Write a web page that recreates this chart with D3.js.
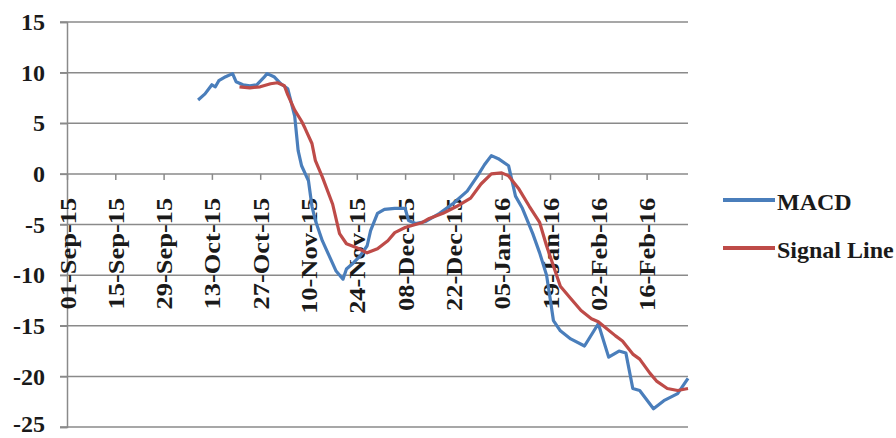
<!DOCTYPE html>
<html>
<head>
<meta charset="utf-8">
<script src="https://cdn.jsdelivr.net/npm/d3@7"></script>
<style>
  body { margin: 0; background: #fff; }
  text { font-family: "Liberation Serif", "Times New Roman", serif; font-weight: bold; }
</style>
</head>
<body>
<div id="plotDiv"></div>
<script>
// --- Data ---
const macdDates = ["2015-10-09","2015-10-11","2015-10-13","2015-10-14","2015-10-15","2015-10-17","2015-10-19","2015-10-20","2015-10-22","2015-10-24","2015-10-26","2015-10-28","2015-10-29","2015-10-31","2015-11-02","2015-11-04","2015-11-06","2015-11-07","2015-11-08","2015-11-10","2015-11-11","2015-11-12","2015-11-14","2015-11-16","2015-11-18","2015-11-20","2015-11-21","2015-11-23","2015-11-25","2015-11-27","2015-11-28","2015-11-30","2015-12-02","2015-12-05","2015-12-08","2015-12-09","2015-12-11","2015-12-14","2015-12-18","2015-12-22","2015-12-26","2015-12-29","2015-12-31","2016-01-02","2016-01-04","2016-01-07","2016-01-08","2016-01-09","2016-01-11","2016-01-14","2016-01-16","2016-01-18","2016-01-19","2016-01-20","2016-01-22","2016-01-25","2016-01-29","2016-02-02","2016-02-05","2016-02-08","2016-02-10","2016-02-12","2016-02-14","2016-02-18","2016-02-21","2016-02-25","2016-02-28"];
const macdValues = [7.3,7.9,8.8,8.6,9.2,9.6,9.9,9.1,8.8,8.7,8.8,9.5,9.9,9.6,8.9,8.4,5.7,2.3,0.8,-0.7,-3.2,-4.6,-6.6,-8.1,-9.6,-10.4,-9.4,-8.8,-8.1,-7.1,-5.6,-3.9,-3.5,-3.4,-3.4,-4.6,-4.9,-4.7,-3.9,-2.9,-1.7,-0.2,0.9,1.8,1.5,0.8,-0.7,-2.2,-3.4,-5.9,-7.8,-10.0,-12.2,-14.5,-15.5,-16.3,-17.0,-14.8,-18.1,-17.5,-17.7,-21.2,-21.4,-23.2,-22.4,-21.7,-20.2];

const signalDates = ["2015-10-21","2015-10-24","2015-10-27","2015-10-30","2015-11-01","2015-11-03","2015-11-04","2015-11-06","2015-11-08","2015-11-09","2015-11-11","2015-11-12","2015-11-14","2015-11-17","2015-11-19","2015-11-21","2015-11-24","2015-11-27","2015-11-30","2015-12-03","2015-12-05","2015-12-08","2015-12-13","2015-12-15","2015-12-19","2015-12-23","2015-12-27","2015-12-30","2016-01-02","2016-01-05","2016-01-07","2016-01-10","2016-01-13","2016-01-16","2016-01-18","2016-01-20","2016-01-22","2016-01-25","2016-01-28","2016-01-31","2016-02-02","2016-02-07","2016-02-09","2016-02-12","2016-02-14","2016-02-17","2016-02-19","2016-02-22","2016-02-25","2016-02-28"];
const signalValues = [8.6,8.5,8.6,8.9,9.0,8.7,7.8,6.3,5.2,4.5,3.0,1.3,-0.3,-3.0,-5.9,-6.9,-7.3,-7.8,-7.4,-6.6,-5.8,-5.3,-4.8,-4.4,-3.9,-3.2,-2.4,-1.0,0.0,0.1,-0.2,-1.5,-3.2,-4.8,-7.1,-9.1,-11.1,-12.3,-13.5,-14.3,-14.6,-16.0,-16.5,-17.8,-18.3,-19.7,-20.5,-21.2,-21.4,-21.2];

const xTickLabels = ["01-Sep-15","15-Sep-15","29-Sep-15","13-Oct-15","27-Oct-15","10-Nov-15","24-Nov-15","08-Dec-15","22-Dec-15","05-Jan-16","19-Jan-16","02-Feb-16","16-Feb-16"];
const yTicks = [-25,-20,-15,-10,-5,0,5,10,15];
const seriesNames = ["MACD","Signal Line"];
const seriesColors = ["#4A7EBB","#BE4B48"];

// --- Definitions ---
const width = 896;
const height = 438;
const parse = d3.timeParse("%Y-%m-%d");
const parseTick = d3.timeParse("%d-%b-%y");
const fmtTick = d3.timeFormat("%d-%b-%y");
const stretch = 1.15; // date labels look drawn taller than wide

const series = [
    macdDates.map((d, i) => ({date: parse(d), value: macdValues[i]})),
    signalDates.map((d, i) => ({date: parse(d), value: signalValues[i]}))
];

const x = d3.scaleTime()
    .domain([parse("2015-09-01"), parse("2016-02-28")])
    .range([67, 688]);
const y = d3.scaleLinear()
    .domain([-25, 15])
    .range([427, 22]);

// --- SVG Setup ---
const svg = d3.select("#plotDiv")
    .append("svg")
    .attr("width", width)
    .attr("height", height);

// --- Gridlines ---
svg.append("g")
    .selectAll("line")
    .data(yTicks)
    .join("line")
    .attr("x1", 60)
    .attr("x2", 688)
    .attr("y1", d => y(d))
    .attr("y2", d => y(d))
    .attr("stroke", "#8a8a8a")
    .attr("stroke-width", 1.5);

// --- Y Axis ---
const yAxis = svg.append("g")
    .attr("transform", `translate(${x.range()[0]},0)`)
    .call(d3.axisLeft(y).tickValues(yTicks).tickSize(7).tickPadding(15).tickFormat(d3.format("d")));
yAxis.select(".domain").attr("stroke", "#8a8a8a").attr("stroke-width", 1.5);
yAxis.selectAll(".tick line").attr("stroke", "#8a8a8a").attr("stroke-width", 1.5);
yAxis.selectAll("text")
    .attr("font-size", "24px")
    .attr("fill", "#1a1a1a")
    .attr("dy", d => d === -25 ? "0.2em" : "0.32em")
    .text(d => d < 0 ? "-" + Math.abs(d) : d);

// --- X Axis (crosses at 0) ---
const xAxis = svg.append("g")
    .attr("transform", `translate(0,${y(0)})`)
    .call(d3.axisBottom(x).tickValues(xTickLabels.map(parseTick)).tickSize(6).tickFormat(fmtTick));
xAxis.select(".domain").remove();
xAxis.selectAll(".tick line").attr("stroke", "#8a8a8a").attr("stroke-width", 1.5);
xAxis.selectAll("text")
    .attr("font-size", "23px")
    .attr("fill", "#1a1a1a")
    .attr("text-anchor", "end")
    .attr("transform", `rotate(-90) scale(${stretch},1)`)
    .attr("x", -24 / stretch)
    .attr("y", 0)
    .attr("dy", "0.35em");

// --- Lines ---
const line = d3.line()
    .x(d => x(d.date))
    .y(d => y(d.value));

svg.append("g")
    .selectAll("path")
    .data(series)
    .join("path")
    .attr("d", line)
    .attr("fill", "none")
    .attr("stroke", (d, i) => seriesColors[i])
    .attr("stroke-width", 3.2)
    .attr("stroke-linejoin", "round");

// --- Legend ---
const legend = svg.append("g")
    .selectAll("g")
    .data(seriesNames)
    .join("g")
    .attr("transform", (d, i) => `translate(723,${200 + i * 48})`);
legend.append("line")
    .attr("x1", 0)
    .attr("x2", 52)
    .attr("stroke", (d, i) => seriesColors[i])
    .attr("stroke-width", 4);
legend.append("text")
    .attr("x", 54)
    .attr("y", 10)
    .attr("font-size", "24px")
    .attr("fill", "#1a1a1a")
    .text(d => d);
</script>
</body>
</html>
